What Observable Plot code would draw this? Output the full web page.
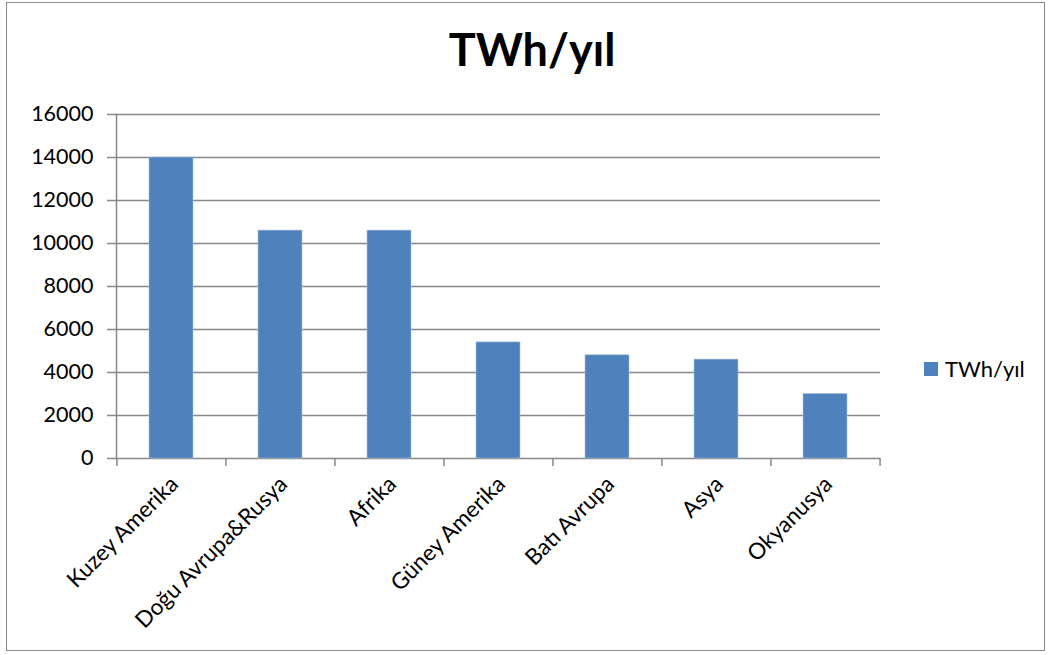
<!DOCTYPE html>
<html>
<head>
<meta charset="utf-8">
<script src="https://cdn.jsdelivr.net/npm/d3@7"></script>
<script src="https://cdn.jsdelivr.net/npm/@observablehq/plot@0.6"></script>
<style>
  body { margin: 0; background: #fff; }
  #wrap { position: relative; width: 1052px; height: 655px; font-family: Lato, "Open Sans", sans-serif; overflow: hidden; }
  #frame { position: absolute; left: 6px; top: 2px; width: 1039px; height: 649px; border: 1.5px solid #8a8a8a; box-sizing: border-box; }
  #title { position: absolute; left: 0; width: 1064px; top: 22px; text-align: center; font-weight: 700; font-size: 45px; color: #000; }
  #chart { position: absolute; left: 0; top: 0; }
  #legend { position: absolute; left: 924px; top: 355px; font-size: 22px; color: #000; display: flex; align-items: center; }
  #legend span.sw { display: inline-block; width: 14px; height: 14px; background: #4f81bd; margin-right: 7px; }
</style>
</head>
<body>
<div id="wrap">
  <div id="frame"></div>
  <div id="chart"></div>
  <div id="title">TWh/yıl</div>
  <div id="legend"><span class="sw"></span><span>TWh/yıl</span></div>
</div>
<script>
const categories = ["Kuzey Amerika", "Doğu Avrupa&Rusya", "Afrika", "Güney Amerika", "Batı Avrupa", "Asya", "Okyanusya"];
const values = [14000, 10600, 10600, 5400, 4800, 4600, 3000];
const yTicks = [0, 2000, 4000, 6000, 8000, 10000, 12000, 14000, 16000];
const seriesName = "TWh/yıl";

const data = categories.map((c, i) => ({category: c, value: values[i]}));

const W = 1052, H = 655;
const mL = 116, mR = 172, mT = 114, mB = 197;
const step = (W - mL - mR) / categories.length;

const chart = Plot.plot({
  width: W,
  height: H,
  marginLeft: mL,
  marginRight: mR,
  marginTop: mT,
  marginBottom: mB,
  style: {fontFamily: "Lato, 'Open Sans', sans-serif", background: "transparent", overflow: "visible"},
  x: {domain: categories, paddingInner: 0.6, paddingOuter: 0.3},
  y: {domain: [0, 16000]},
  marks: [
    Plot.ruleY(yTicks, {y: d => d, stroke: "#888", strokeWidth: 1.5, insetLeft: -9}),
    Plot.frame({anchor: "left", stroke: "#888", strokeWidth: 1.5}),
    Plot.barY(data, {x: "category", y: "value", fill: "#4f81bd", stroke: "#a9c1e0", strokeWidth: 0.6}),
    Plot.ruleX(categories, {x: d => d, dx: -step / 2, y1: 0, y2: 0, insetBottom: -8, stroke: "#888", strokeWidth: 1.5}),
    Plot.ruleX([categories[categories.length - 1]], {x: d => d, dx: step / 2, y1: 0, y2: 0, insetBottom: -8, stroke: "#888", strokeWidth: 1.5}),
    Plot.axisY(yTicks, {tickSize: 0, tickPadding: 23, fontSize: 21.5, fill: "#000", label: null, tickFormat: d => String(d)}),
    Plot.axisX({tickSize: 0, tickRotate: -45, tickPadding: 22, dx: 3, fontSize: 22.5, fill: "#000", label: null})
  ]
});
document.getElementById("chart").appendChild(chart);
</script>
</body>
</html>
